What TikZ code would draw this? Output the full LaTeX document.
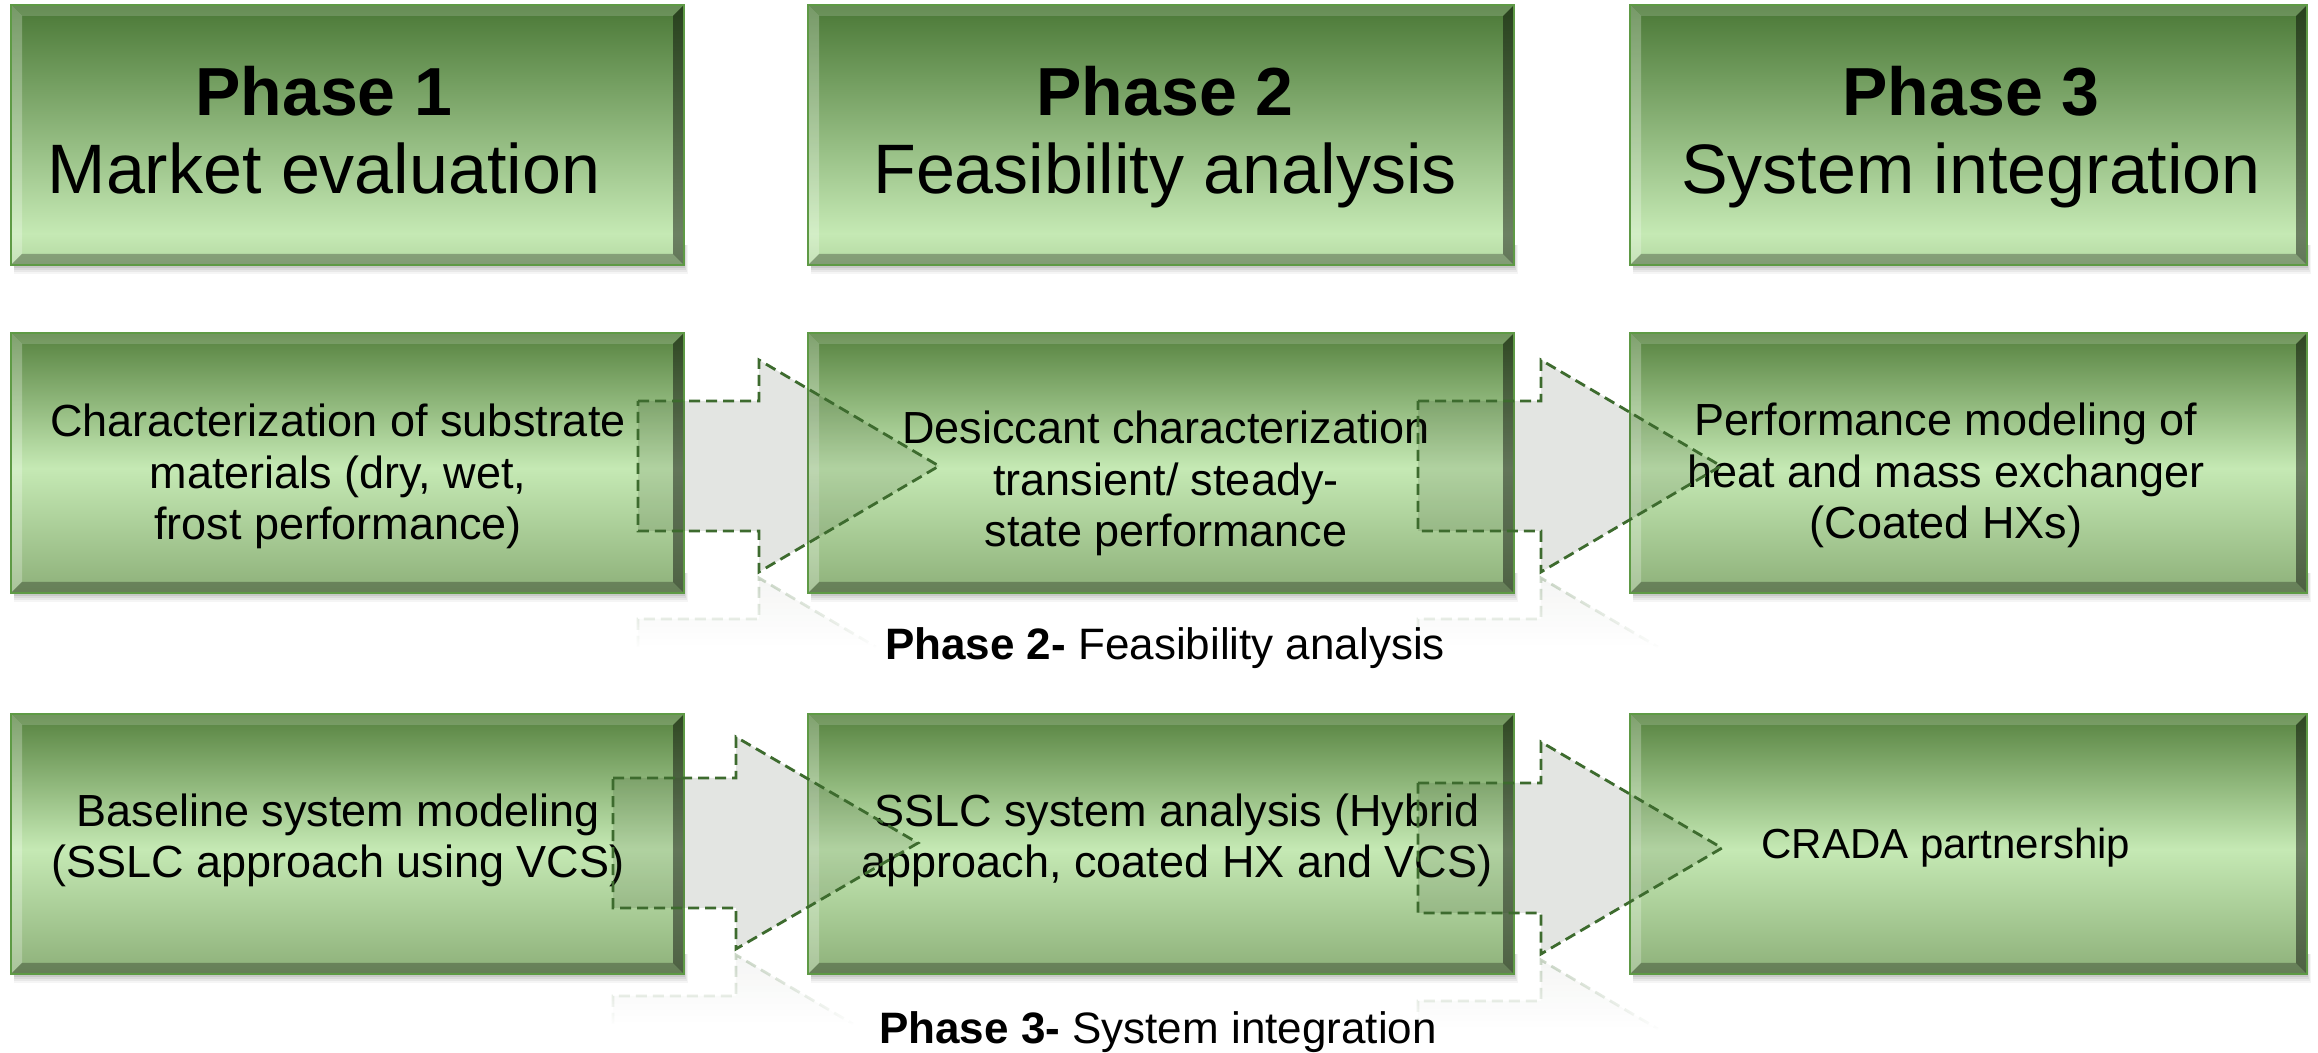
\documentclass[tikz,border=0pt]{standalone}
\usepackage{fontspec}
\setmainfont{Liberation Sans}
\usetikzlibrary{fadings}

% palette
\definecolor{gDark}{HTML}{4A7836}
\definecolor{gLight}{HTML}{C5E9B4}
\definecolor{gLow}{HTML}{B3D8A1}
\definecolor{sDark}{HTML}{56823F}
\definecolor{sLow}{HTML}{8DB079}
\definecolor{rimGreen}{HTML}{5E9A45}
\definecolor{dashGreen}{HTML}{3D6B2E}
\definecolor{arrowTint}{HTML}{28371F}

% box gradients: header boxes are dark on top and light near the bottom,
% step boxes are light across the middle
\pgfdeclareverticalshading{hdrshade}{100bp}{color(0bp)=(gLow); color(25bp)=(gLow); color(31bp)=(gLight); color(75bp)=(gDark); color(100bp)=(gDark)}
\pgfdeclareverticalshading{stepshade}{100bp}{color(0bp)=(sLow); color(25bp)=(sLow); color(49bp)=(gLight); color(75bp)=(sDark); color(100bp)=(sDark)}

\tikzfading[name=reflfade, top color=transparent!55, bottom color=transparent!100]

\tikzset{
  bevel/.style={path picture={
    \coordinate (bvsw) at (path picture bounding box.south west);
    \coordinate (bvse) at (path picture bounding box.south east);
    \coordinate (bvnw) at (path picture bounding box.north west);
    \coordinate (bvne) at (path picture bounding box.north east);
    \fill[white,opacity=.16] (bvnw) -- (bvne) -- ([shift={(-11pt,-11pt)}]bvne) -- ([shift={(11pt,-11pt)}]bvnw) -- cycle;
    \fill[white,opacity=.25] (bvnw) -- ([shift={(11pt,-11pt)}]bvnw) -- ([shift={(11pt,11pt)}]bvsw) -- (bvsw) -- cycle;
    \fill[black,opacity=.45] (bvne) -- (bvse) -- ([shift={(-11pt,11pt)}]bvse) -- ([shift={(-11pt,-11pt)}]bvne) -- cycle;
    \fill[black,opacity=.28] (bvsw) -- (bvse) -- ([shift={(-11pt,11pt)}]bvse) -- ([shift={(11pt,11pt)}]bvsw) -- cycle;
    \draw[black,opacity=.35,line width=3pt] (bvne) -- (bvse);
  }},
  panel/.style={rectangle, inner sep=0pt, minimum height=260pt, draw=rimGreen, line width=1.5pt, shade, bevel},
  hdrbox/.style={panel, shading=hdrshade},
  stepbox/.style={panel, shading=stepshade},
  hdrtitle/.style={anchor=base, inner sep=0pt, font=\fontsize{68}{78}\selectfont\bfseries},
  hdrsub/.style={anchor=base, inner sep=0pt, font=\fontsize{70}{80}\selectfont},
  % the base anchor of a multi-line node sits on its last line
  steptext/.style={anchor=base, inner sep=0pt, align=center, font=\fontsize{45}{51.5}\selectfont},
  caption/.style={anchor=base, inner sep=0pt, font=\fontsize{44}{50}\selectfont},
  arrowbody/.style={fill=arrowTint, fill opacity=0.13},
  arrowline/.style={draw=dashGreen, line width=2.8pt, dash pattern=on 11pt off 6pt},
  reflbody/.style={fill=arrowTint, fill opacity=0.10, path fading=reflfade},
  reflline/.style={draw=dashGreen, line width=2.8pt, dash pattern=on 11pt off 6pt, draw opacity=0.6, path fading=reflfade},
}

% block arrow with its faded mirror image underneath
% #1 name, #2 tail x, #3 head base x, #4 tip x, #5 centre y
\newcommand\phasearrow[5]{%
  \coordinate (#1-tail) at (#2,#5);
  \coordinate (#1-tip) at (#4,#5);
  \path[arrowbody] (#2,#5+65) -- (#3,#5+65) -- (#3,#5+106) -- (#1-tip) -- (#3,#5-106) -- (#3,#5-65) -- (#2,#5-65) -- cycle;
  \path[arrowline] (#2,#5+65) -- (#3,#5+65) -- (#3,#5+106) -- (#1-tip) -- (#3,#5-106) -- (#3,#5-65) -- (#2,#5-65) -- cycle;
  \path[reflbody] (#2,#5-181) -- (#2,#5-153) -- (#3,#5-153) -- (#3,#5-112) -- ({#3+117},#5-181) -- cycle;
  \path[reflline] (#2,#5-181) -- (#2,#5-153) -- (#3,#5-153) -- (#3,#5-112) -- ({#3+117},#5-181);
}

\begin{document}
\begin{tikzpicture}[x=1pt, y=1pt]
\useasboundingbox (0,0) rectangle (2318,1052);
\fill[white] (0,0) rectangle (2318,1052);

% soft shadows under the panels
\foreach \xa/\xb/\yb in {11/684/787, 808/1514/787, 1630/2307/787,
                         11/684/459, 808/1514/459, 1630/2307/459,
                         11/684/78, 808/1514/78, 1630/2307/78}{
  \foreach \d/\o in {1/0.10, 3/0.08, 5/0.06, 7/0.05, 9/0.04}
    \fill[black, opacity=\o] (\xa+3,\yb-\d) rectangle (\xb+0.4*\d,\yb+20);
}

% phase headers
\node[hdrbox, minimum width=673pt] (h1) at (347.5,917) {};
\node[hdrbox, minimum width=706pt] (h2) at (1161,917) {};
\node[hdrbox, minimum width=677pt] (h3) at (1968.5,917) {};

% phase steps
\node[stepbox, minimum width=673pt] (s11) at (347.5,589) {};
\node[stepbox, minimum width=706pt] (s12) at (1161,589) {};
\node[stepbox, minimum width=677pt] (s13) at (1968.5,589) {};
\node[stepbox, minimum width=673pt] (s21) at (347.5,208) {};
\node[stepbox, minimum width=706pt] (s22) at (1161,208) {};
\node[stepbox, minimum width=677pt] (s23) at (1968.5,208) {};

% header texts
\node[hdrtitle] (h1a) at (324,936) {Phase 1};
\node[hdrsub]   (h1b) at (324,858) {Market evaluation};
\node[hdrtitle] (h2a) at (1165,936) {Phase 2};
\node[hdrsub]   (h2b) at (1165,858) {Feasibility analysis};
\node[hdrtitle] (h3a) at (1971,936) {Phase 3};
\node[hdrsub]   (h3b) at (1971,858) {System integration};

% step texts
\node[steptext] (s11t) at (338,512) {Characterization of substrate\\materials (dry, wet,\\frost performance)};
\node[steptext] (s12t) at (1166,505) {Desiccant characterization\\transient/ steady-\\state performance};
\node[steptext] (s13t) at (1946,513) {Performance modeling of\\heat and mass exchanger\\(Coated HXs)};
\node[steptext] (s21t) at (338,174) {Baseline system modeling\\(SSLC approach using VCS)};
\node[steptext] (s22t) at (1177,174) {SSLC system analysis (Hybrid\\approach, coated HX and VCS)};
\node[steptext, font=\fontsize{42}{48}\selectfont] (s23t) at (1946,193) {CRADA partnership};

% transition arrows
\phasearrow{a1}{638}{759}{939}{586}
\phasearrow{a2}{1418}{1541}{1721}{586}
\phasearrow{a3}{613}{736}{918}{209}
\phasearrow{a4}{1418}{1541}{1722}{204}

% row captions
\node[caption] (c2) at (1165,392) {\textbf{Phase 2-} Feasibility analysis};
\node[caption] (c3) at (1158,9) {\textbf{Phase 3-} System integration};
\end{tikzpicture}
\end{document}
